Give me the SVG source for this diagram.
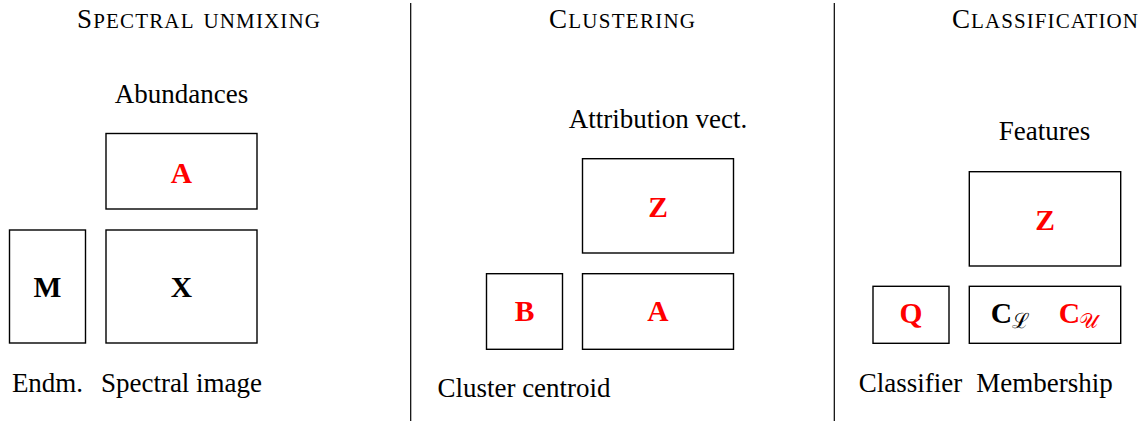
<svg xmlns="http://www.w3.org/2000/svg" width="1146" height="421" viewBox="0 0 1146 421">
<style>
.bg{fill:#fff}
.box{fill:#fff;stroke:#000;stroke-width:1.4}
.div{stroke:#000;stroke-width:1.2}
.t{font-family:"Liberation Serif","DejaVu Serif",serif;font-size:27px;fill:#000;text-anchor:middle}
.title{font-family:"Liberation Serif","DejaVu Serif",serif;font-size:27px;fill:#000;text-anchor:middle}
.sc{font-size:30.5px;font-variant:small-caps}
.m{font-family:"Liberation Serif","DejaVu Serif",serif;font-size:29.5px;font-weight:bold;text-anchor:middle}
.red{fill:#ff0000}
.blk{fill:#000}
.sub{font-family:"DejaVu Serif","Liberation Serif",serif;font-size:21px;font-weight:normal}
</style>
<rect class="bg" x="0" y="0" width="1146" height="421"/>
<g id="dividers">
<line class="div" x1="410.7" y1="3" x2="410.7" y2="421"/>
<line class="div" x1="834.3" y1="3" x2="834.3" y2="421"/>
</g>
<g id="titles">
<text class="title" x="198.5" y="28" textLength="243" lengthAdjust="spacing">S<tspan class="sc">pectral unmixing</tspan></text>
<text class="title" x="622" y="28" textLength="146" lengthAdjust="spacing">C<tspan class="sc">lustering</tspan></text>
<text class="title" x="1045" y="28" textLength="186" lengthAdjust="spacing">C<tspan class="sc">lassification</tspan></text>
</g>
<g id="node-abundances">
<text class="t" x="181.5" y="103">Abundances</text>
<rect class="box" x="106" y="133.5" width="151" height="75.5"/>
<text class="m red" x="181.5" y="183">A</text>
</g>
<g id="node-endm">
<rect class="box" x="9.5" y="230" width="76" height="113"/>
<text class="m blk" x="47.5" y="296.5">M</text>
<text class="t" x="47.5" y="391.5">Endm.</text>
</g>
<g id="node-spectral-image">
<rect class="box" x="106" y="230" width="151" height="113"/>
<text class="m blk" x="181.5" y="296.5">X</text>
<text class="t" x="181.5" y="391.5">Spectral image</text>
</g>
<g id="node-attribution">
<text class="t" x="658" y="128">Attribution vect.</text>
<rect class="box" x="582.5" y="158.7" width="151" height="94.3"/>
<text class="m red" x="658" y="216.5">Z</text>
</g>
<g id="node-centroid">
<rect class="box" x="486.5" y="273.7" width="76" height="75.6"/>
<text class="m red" x="524.5" y="321">B</text>
<text class="t" x="524" y="397">Cluster centroid</text>
</g>
<g id="node-cluster-a">
<rect class="box" x="582.5" y="273.7" width="151" height="75.6"/>
<text class="m red" x="658" y="321">A</text>
</g>
<g id="node-features">
<text class="t" x="1044.5" y="140">Features</text>
<rect class="box" x="969.3" y="171.7" width="151.4" height="94.3"/>
<text class="m red" x="1045" y="229.5">Z</text>
</g>
<g id="node-classifier">
<rect class="box" x="873" y="286.3" width="76" height="57"/>
<text class="m red" x="911" y="323">Q</text>
<text class="t" x="910.5" y="391.5">Classifier</text>
</g>
<g id="node-membership">
<rect class="box" x="969.3" y="286.3" width="151.4" height="57"/>
<text class="m blk" x="1001.5" y="323">C</text><text class="sub blk" x="1020.5" y="328" text-anchor="middle">ℒ</text>
<text class="m red" x="1069.5" y="323">C</text><text class="sub red" x="1088.5" y="328" text-anchor="middle">𝒰</text>
<text class="t" x="1044.5" y="391.5">Membership</text>
</g>
</svg>
